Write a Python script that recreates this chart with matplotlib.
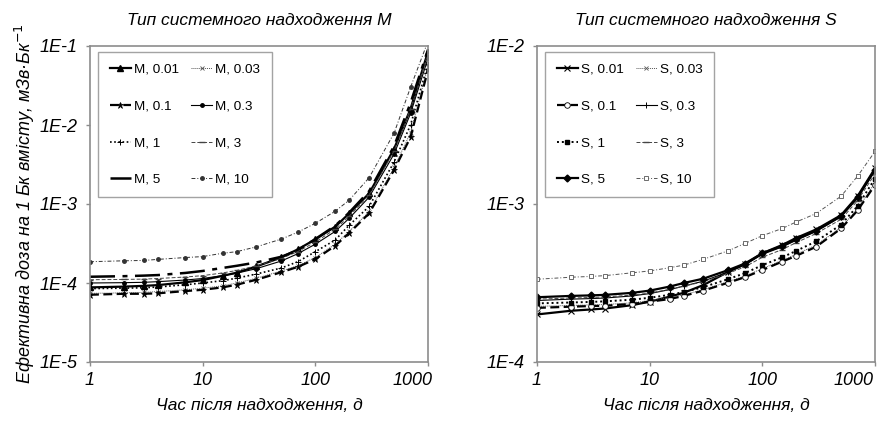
import numpy as np
import matplotlib
matplotlib.use("Agg")
import matplotlib.pyplot as plt
from matplotlib.ticker import FixedLocator, FuncFormatter, NullLocator
from matplotlib.transforms import ScaledTranslation

# час після надходження, доби
days = [1, 2, 3, 4, 7, 10, 15, 20, 30, 50, 70, 100, 150, 200, 300, 500, 700, 1000]

# тип М: доза на 1 Бк вмісту, мЗв/Бк
m_labels = ["M, 0.01", "M, 0.03", "M, 0.1", "M, 0.3", "M, 1", "M, 3", "M, 5", "M, 10"]
m_001 = [8.8e-5, 9.0e-5, 9.2e-5, 9.4e-5, 1.02e-4, 1.09e-4, 1.23e-4, 1.35e-4, 1.62e-4,
         2.11e-4, 2.67e-4, 3.57e-4, 5.16e-4, 7.6e-4, 1.36e-3, 5.0e-3, 1.6e-2, 8.5e-2]
m_003 = [7.4e-5, 7.5e-5, 7.6e-5, 7.8e-5, 8.2e-5, 8.6e-5, 9.2e-5, 1.0e-4, 1.15e-4,
         1.42e-4, 1.66e-4, 2.1e-4, 3.1e-4, 4.5e-4, 8.0e-4, 2.9e-3, 8.0e-3, 5.5e-2]
m_01 = [7.1e-5, 7.3e-5, 7.3e-5, 7.4e-5, 7.9e-5, 8.2e-5, 8.8e-5, 9.5e-5, 1.1e-4,
        1.37e-4, 1.6e-4, 2.0e-4, 2.96e-4, 4.3e-4, 7.6e-4, 2.7e-3, 7.0e-3, 5.0e-2]
m_03 = [1.0e-4, 1.01e-4, 1.02e-4, 1.04e-4, 1.09e-4, 1.14e-4, 1.24e-4, 1.33e-4, 1.52e-4,
        1.9e-4, 2.35e-4, 3.1e-4, 4.5e-4, 6.6e-4, 1.22e-3, 4.3e-3, 1.4e-2, 7.0e-2]
m_1 = [8.5e-5, 8.6e-5, 8.7e-5, 8.9e-5, 9.5e-5, 1.0e-4, 1.07e-4, 1.15e-4, 1.3e-4,
       1.55e-4, 1.86e-4, 2.49e-4, 3.5e-4, 5.4e-4, 9.3e-4, 3.4e-3, 1.0e-2, 6.0e-2]
m_3 = [1.10e-4, 1.11e-4, 1.12e-4, 1.14e-4, 1.19e-4, 1.24e-4, 1.34e-4, 1.44e-4, 1.65e-4,
       2.05e-4, 2.5e-4, 3.3e-4, 4.8e-4, 7.0e-4, 1.3e-3, 4.7e-3, 1.6e-2, 8.0e-2]
m_5 = [1.20e-4, 1.22e-4, 1.24e-4, 1.26e-4, 1.34e-4, 1.42e-4, 1.55e-4, 1.65e-4, 1.82e-4,
       2.15e-4, 2.6e-4, 3.6e-4, 5.3e-4, 7.8e-4, 1.45e-3, 5.4e-3, 1.9e-2, 9.0e-2]
m_10 = [1.86e-4, 1.91e-4, 1.93e-4, 1.99e-4, 2.10e-4, 2.16e-4, 2.38e-4, 2.49e-4, 2.87e-4,
        3.6e-4, 4.4e-4, 5.7e-4, 8.1e-4, 1.12e-3, 2.15e-3, 7.9e-3, 3.0e-2, 1.15e-1]

# тип S
s_labels = ["S, 0.01", "S, 0.03", "S, 0.1", "S, 0.3", "S, 1", "S, 3", "S, 5", "S, 10"]
s_001 = [2.0e-4, 2.11e-4, 2.15e-4, 2.18e-4, 2.29e-4, 2.41e-4, 2.59e-4, 2.74e-4, 3.07e-4,
         3.73e-4, 4.15e-4, 4.88e-4, 5.5e-4, 6.1e-4, 6.9e-4, 8.5e-4, 1.12e-3, 1.68e-3]
s_003 = [2.25e-4, 2.28e-4, 2.3e-4, 2.31e-4, 2.37e-4, 2.45e-4, 2.55e-4, 2.66e-4, 2.87e-4,
         3.23e-4, 3.5e-4, 3.9e-4, 4.4e-4, 4.8e-4, 5.5e-4, 7.1e-4, 9.3e-4, 1.36e-3]
s_01 = [2.2e-4, 2.24e-4, 2.26e-4, 2.27e-4, 2.33e-4, 2.41e-4, 2.5e-4, 2.62e-4, 2.83e-4,
        3.18e-4, 3.44e-4, 3.82e-4, 4.32e-4, 4.7e-4, 5.36e-4, 7.0e-4, 9.1e-4, 1.32e-3]
s_03 = [2.45e-4, 2.5e-4, 2.52e-4, 2.54e-4, 2.62e-4, 2.71e-4, 2.87e-4, 3.02e-4, 3.25e-4,
        3.72e-4, 4.12e-4, 4.8e-4, 5.35e-4, 5.9e-4, 6.7e-4, 8.3e-4, 1.09e-3, 1.62e-3]
s_1 = [2.35e-4, 2.38e-4, 2.4e-4, 2.42e-4, 2.48e-4, 2.55e-4, 2.66e-4, 2.77e-4, 2.98e-4,
       3.35e-4, 3.65e-4, 4.1e-4, 4.6e-4, 5.05e-4, 5.8e-4, 7.4e-4, 9.7e-4, 1.45e-3]
s_3 = [2.5e-4, 2.54e-4, 2.56e-4, 2.58e-4, 2.65e-4, 2.73e-4, 2.88e-4, 3.02e-4, 3.22e-4,
       3.65e-4, 4.0e-4, 4.6e-4, 5.15e-4, 5.7e-4, 6.5e-4, 8.0e-4, 1.05e-3, 1.55e-3]
s_5 = [2.57e-4, 2.62e-4, 2.64e-4, 2.66e-4, 2.74e-4, 2.83e-4, 3.0e-4, 3.16e-4, 3.37e-4,
       3.82e-4, 4.2e-4, 4.88e-4, 5.42e-4, 5.97e-4, 6.78e-4, 8.4e-4, 1.1e-3, 1.65e-3]
s_10 = [3.34e-4, 3.44e-4, 3.48e-4, 3.52e-4, 3.67e-4, 3.77e-4, 3.95e-4, 4.1e-4, 4.47e-4,
        5.06e-4, 5.63e-4, 6.3e-4, 7.0e-4, 7.7e-4, 8.7e-4, 1.12e-3, 1.5e-3, 2.15e-3]

m_series = [m_001, m_003, m_01, m_03, m_1, m_3, m_5, m_10]
s_series = [s_001, s_003, s_01, s_03, s_1, s_3, s_5, s_10]

# стилі ліній у порядку легенди
m_styles = [
    dict(color="black", lw=1.6, ls="-", marker="^", ms=4),
    dict(color="#555555", lw=0.7, ls=(0, (1, 1)), marker="x", ms=3, mew=0.6),
    dict(color="black", lw=1.6, ls=(0, (4, 2)), marker="*", ms=5, mew=0.5),
    dict(color="black", lw=0.8, ls="-", marker="o", ms=2.5),
    dict(color="black", lw=1.2, ls=(0, (1, 1.5)), marker="+", ms=5, mew=0.7),
    dict(color="#444444", lw=0.7, ls=(0, (4, 2)), marker="_", ms=4, mew=1.0),
    dict(color="black", lw=1.8, ls=(0, (10, 3, 2, 3)), marker=None),
    dict(color="#333333", lw=0.7, ls=(0, (4, 2, 1, 2)), marker="o", ms=2.5),
]
s_styles = [
    dict(color="black", lw=1.6, ls="-", marker="x", ms=4, mew=0.8),
    dict(color="#555555", lw=0.7, ls=(0, (1, 1)), marker="x", ms=3, mew=0.6),
    dict(color="black", lw=1.6, ls=(0, (4, 2)), marker="o", ms=4, mfc="white", mew=0.6),
    dict(color="black", lw=0.8, ls="-", marker="|", ms=5, mew=0.7),
    dict(color="black", lw=1.4, ls=(0, (1, 1.5)), marker="s", ms=2.5),
    dict(color="#444444", lw=0.7, ls=(0, (4, 2)), marker="_", ms=4, mew=1.0),
    dict(color="black", lw=1.6, ls="-", marker="D", ms=3.5),
    dict(color="#555555", lw=0.7, ls=(0, (4, 2, 1, 2)), marker="s", ms=3.5, mfc="white", mew=0.6),
]

plt.rcParams["font.family"] = ["Liberation Sans", "DejaVu Sans"]
grey = "#8c8c8c"
# легенда заповнюється по рядках: 0.01 | 0.03, 0.1 | 0.3, ...
legend_order = [0, 2, 4, 6, 1, 3, 5, 7]


def exp_label(v, pos):
    return "1E%d" % int(round(np.log10(v)))


def setup_axes(ax, ylo, yhi, title, last_shift):
    ax.set_xscale("log")
    ax.set_yscale("log")
    ax.set_xlim(1, 1000)
    ax.set_ylim(ylo, yhi)
    ax.xaxis.set_major_locator(FixedLocator([1, 10, 100, 1000]))
    ax.xaxis.set_major_formatter(FuncFormatter(lambda v, p: "%d" % v))
    ax.xaxis.set_minor_locator(NullLocator())
    decades = 10.0 ** np.arange(np.log10(ylo), np.log10(yhi) + 0.5)
    ax.yaxis.set_major_locator(FixedLocator(decades))
    ax.yaxis.set_major_formatter(FuncFormatter(exp_label))
    ax.yaxis.set_minor_locator(NullLocator())
    for sp in ax.spines.values():
        sp.set_color(grey)
        sp.set_linewidth(1.2)
    ax.tick_params(length=3, width=1, color=grey, labelsize=13)
    ax.tick_params(axis="y", pad=6)
    ax.tick_params(axis="x", pad=4)
    for lab in ax.get_xticklabels() + ax.get_yticklabels():
        lab.set_fontstyle("italic")
    # підпис "1000" зсунутий всередину, щоб не виходив за край
    lab = ax.get_xticklabels()[-1]
    lab.set_transform(lab.get_transform() + ScaledTranslation(last_shift / 100, 0, fig.dpi_scale_trans))
    ax.set_title(title, fontsize=12.5, style="italic", pad=15)
    ax.set_xlabel("Час після надходження, д", fontsize=12.5, style="italic", labelpad=7)


def draw_panel(ax, series, styles, labels):
    lines = []
    for vals, st, lab in zip(series, styles, labels):
        lines += ax.plot(days, vals, label=lab, **st)
    handles = [lines[i] for i in legend_order]
    leg = ax.legend(handles=handles, ncol=2, loc="upper left", bbox_to_anchor=(0.024, 0.981),
                    fontsize=9.7, frameon=True, fancybox=False, labelspacing=1.8,
                    handlelength=1.6, handletextpad=0.2, columnspacing=0.9,
                    borderpad=0.85, borderaxespad=0)
    leg.get_frame().set_edgecolor(grey)
    leg.get_frame().set_linewidth(1.0)


fig = plt.figure(figsize=(8.81, 4.22), dpi=100)
ax1 = fig.add_axes([90 / 881, 60 / 422, 338 / 881, 316 / 422])
ax2 = fig.add_axes([537 / 881, 60 / 422, 338 / 881, 316 / 422])

draw_panel(ax1, m_series, m_styles, m_labels)
setup_axes(ax1, 1e-5, 1e-1, "Тип системного надходження М", -15)
ax1.set_ylabel("Ефективна доза на 1 Бк вмісту, мЗв·Бк$^{-1}$", fontsize=13,
               style="italic", labelpad=1.5)

draw_panel(ax2, s_series, s_styles, s_labels)
setup_axes(ax2, 1e-4, 1e-2, "Тип системного надходження S", -21)

fig.savefig("out.png", dpi=100)
